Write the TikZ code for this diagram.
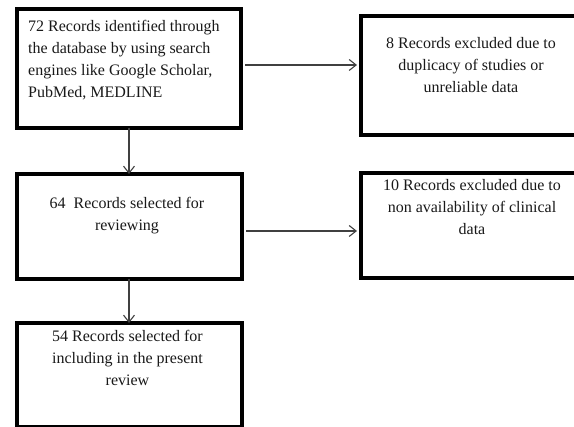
\documentclass[tikz,border=0pt]{standalone}
\usepackage{fontspec}
\setmainfont{Liberation Serif}
\usetikzlibrary{arrows.meta}
\begin{document}
\begin{tikzpicture}[x=1pt,y=-1pt,
  boxr/.style={draw=black,line width=4pt,fill=white},
  txt/.style={inner sep=0pt,font=\fontsize{16}{22}\selectfont,text=black!90},
  conn/.style={draw=black!75,line width=1.1pt,-{Straight Barb[length=7pt,width=11pt,line width=1.1pt]}}]
\useasboundingbox (0,0) rectangle (574,427);
\fill[white] (0,0) rectangle (574,427);
% boxes
\node[boxr,minimum width=224pt,minimum height=119pt,inner sep=0pt,anchor=north west] (b1) at (15,7) {};
\node[boxr,minimum width=219pt,minimum height=119pt,inner sep=0pt,anchor=north west] (b2) at (359,14) {};
\node[boxr,minimum width=225pt,minimum height=105pt,inner sep=0pt,anchor=north west] (b3) at (15,172) {};
\node[boxr,minimum width=219pt,minimum height=105pt,inner sep=0pt,anchor=north west] (b4) at (359,171) {};
\node[boxr,minimum width=225pt,minimum height=104pt,inner sep=0pt,anchor=north west] (b5) at (15,321) {};
% texts
\node[txt,anchor=north west,align=left] (t1) at (28,20) {72 Records identified through\\the database by using search\\engines like Google Scholar,\\PubMed, MEDLINE};
\node[txt,anchor=north,align=center] (t2) at (471,37.5) {8 Records excluded due to\\duplicacy of studies or\\unreliable data};
\node[txt,anchor=north,align=center] (t3) at (127,197.5) {64\ \ Records selected for\\reviewing};
\node[txt,anchor=north,align=center] (t4) at (472,179.5) {10 Records excluded due to\\non availability of clinical\\data};
\node[txt,anchor=north,align=center] (t5) at (127.5,330.5) {54 Records selected for\\including in the present\\review};
% connectors
\coordinate (a1s) at (b1.east |- 0,65);
\coordinate (a1e) at (b2.west |- 0,65);
\draw[conn] ([xshift=2pt]a1s) -- ([xshift=-2pt]a1e);
\coordinate (a2s) at (b3.east |- 0,231);
\coordinate (a2e) at (b4.west |- 0,231);
\draw[conn] ([xshift=2pt]a2s) -- ([xshift=-2pt]a2e);
\coordinate (v1s) at (129,0 |- b1.south);
\coordinate (v1e) at (129,0 |- b3.north);
\draw[conn] ([yshift=2pt]v1s) -- ([yshift=-2pt]v1e);
\coordinate (v2s) at (129,0 |- b3.south);
\coordinate (v2e) at (129,0 |- b5.north);
\draw[conn] ([yshift=2pt]v2s) -- ([yshift=-2pt]v2e);
\end{tikzpicture}
\end{document}
